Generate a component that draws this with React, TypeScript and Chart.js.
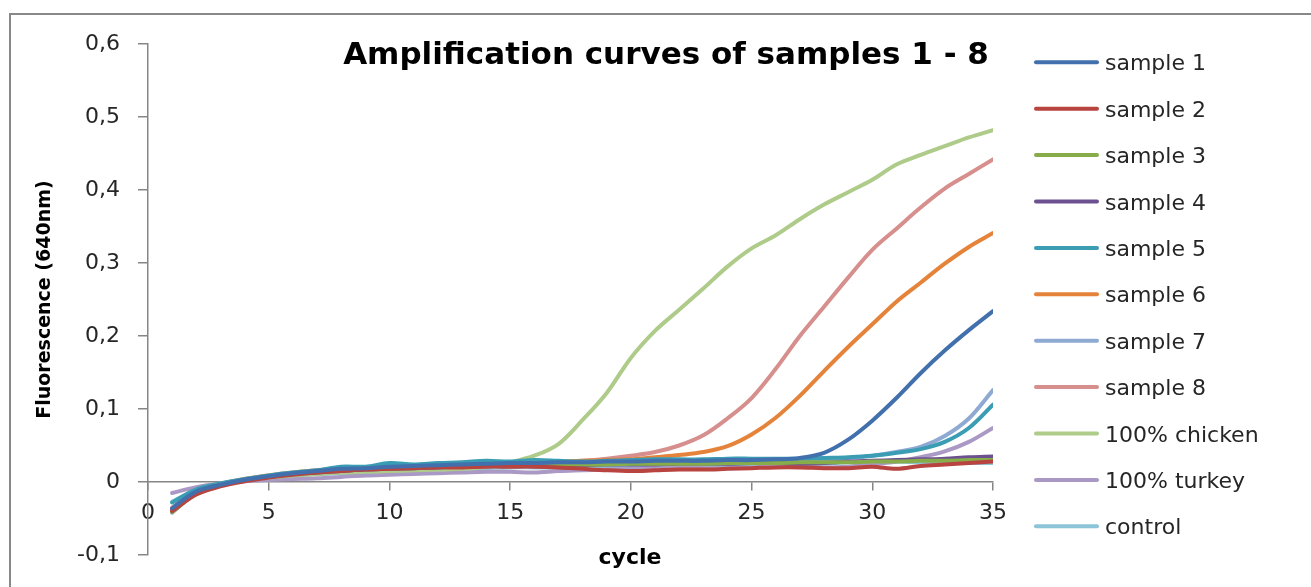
import React, { useEffect, useRef } from 'react';
import { Chart, registerables } from 'chart.js';

Chart.register(...registerables);

const cycles = [1, 2, 3, 4, 5, 6, 7, 8, 9, 10, 11, 12, 13, 14, 15, 16, 17, 18, 19, 20, 21, 22, 23, 24, 25, 26, 27, 28, 29, 30, 31, 32, 33, 34, 35];

const sample1 = [-0.036, -0.013, -0.004, 0.003, 0.008, 0.012, 0.015, 0.018, 0.019, 0.021, 0.022, 0.023, 0.024, 0.025, 0.026, 0.026, 0.027, 0.027, 0.028, 0.028, 0.029, 0.029, 0.029, 0.03, 0.03, 0.031, 0.033, 0.04, 0.058, 0.084, 0.115, 0.149, 0.18, 0.208, 0.234];
const sample2 = [-0.04, -0.017, -0.006, 0.001, 0.006, 0.01, 0.013, 0.015, 0.017, 0.018, 0.019, 0.02, 0.02, 0.021, 0.021, 0.021, 0.02, 0.018, 0.016, 0.015, 0.016, 0.017, 0.017, 0.018, 0.019, 0.02, 0.02, 0.019, 0.019, 0.021, 0.018, 0.022, 0.024, 0.026, 0.028];
const sample3 = [-0.041, -0.016, -0.005, 0.002, 0.007, 0.011, 0.014, 0.016, 0.018, 0.019, 0.02, 0.021, 0.022, 0.022, 0.023, 0.023, 0.024, 0.024, 0.024, 0.025, 0.025, 0.025, 0.025, 0.026, 0.026, 0.026, 0.027, 0.027, 0.027, 0.028, 0.028, 0.029, 0.029, 0.03, 0.03];
const sample4 = [-0.037, -0.014, -0.004, 0.002, 0.007, 0.011, 0.013, 0.015, 0.017, 0.018, 0.019, 0.02, 0.021, 0.022, 0.022, 0.023, 0.023, 0.023, 0.024, 0.024, 0.024, 0.025, 0.025, 0.025, 0.026, 0.026, 0.025, 0.026, 0.028, 0.029, 0.03, 0.031, 0.032, 0.034, 0.035];
const sample5 = [-0.028, -0.01, -0.002, 0.004, 0.009, 0.013, 0.016, 0.021, 0.021, 0.026, 0.024, 0.026, 0.027, 0.029, 0.028, 0.03, 0.029, 0.028, 0.029, 0.03, 0.031, 0.031, 0.031, 0.032, 0.032, 0.032, 0.032, 0.033, 0.034, 0.036, 0.04, 0.045, 0.055, 0.074, 0.106];
const sample6 = [-0.038, -0.013, -0.003, 0.004, 0.009, 0.013, 0.016, 0.018, 0.019, 0.021, 0.022, 0.023, 0.024, 0.025, 0.026, 0.027, 0.028, 0.029, 0.03, 0.031, 0.034, 0.037, 0.041, 0.049, 0.065, 0.088, 0.118, 0.152, 0.185, 0.216, 0.247, 0.273, 0.299, 0.322, 0.341];
const sample7 = [-0.042, -0.015, -0.005, 0.002, 0.007, 0.011, 0.014, 0.016, 0.018, 0.02, 0.021, 0.022, 0.023, 0.024, 0.025, 0.026, 0.026, 0.027, 0.027, 0.028, 0.028, 0.028, 0.029, 0.029, 0.029, 0.03, 0.03, 0.031, 0.033, 0.036, 0.041, 0.048, 0.063, 0.087, 0.126];
const sample8 = [-0.035, -0.012, -0.003, 0.003, 0.008, 0.012, 0.015, 0.018, 0.02, 0.021, 0.022, 0.023, 0.024, 0.024, 0.025, 0.026, 0.027, 0.029, 0.032, 0.036, 0.041, 0.05, 0.064, 0.087, 0.115, 0.155, 0.2, 0.24, 0.28, 0.318, 0.347, 0.376, 0.402, 0.422, 0.442];
const chicken = [-0.04, -0.015, -0.005, 0.002, 0.006, 0.009, 0.011, 0.013, 0.014, 0.015, 0.016, 0.017, 0.018, 0.021, 0.027, 0.036, 0.052, 0.085, 0.122, 0.17, 0.207, 0.236, 0.265, 0.295, 0.32, 0.338, 0.36, 0.38, 0.397, 0.414, 0.435, 0.448, 0.46, 0.472, 0.482];
const turkey = [-0.015, -0.007, -0.002, 0.001, 0.003, 0.004, 0.005, 0.007, 0.009, 0.01, 0.011, 0.012, 0.013, 0.014, 0.014, 0.013, 0.015, 0.016, 0.017, 0.018, 0.02, 0.02, 0.019, 0.019, 0.02, 0.022, 0.022, 0.02, 0.021, 0.024, 0.028, 0.034, 0.042, 0.055, 0.074];
const control = [-0.027, -0.011, -0.003, 0.003, 0.006, 0.009, 0.011, 0.012, 0.013, 0.015, 0.016, 0.017, 0.018, 0.019, 0.02, 0.02, 0.02, 0.021, 0.021, 0.021, 0.022, 0.022, 0.022, 0.022, 0.023, 0.023, 0.024, 0.025, 0.027, 0.028, 0.028, 0.027, 0.027, 0.026, 0.026];

const seriesNames = ['sample 1', 'sample 2', 'sample 3', 'sample 4', 'sample 5', 'sample 6', 'sample 7', 'sample 8', '100% chicken', '100% turkey', 'control'];
const seriesValues = [sample1, sample2, sample3, sample4, sample5, sample6, sample7, sample8, chicken, turkey, control];
const seriesColors = ['#4170ad', '#b8433f', '#87ad4a', '#6c5191', '#3a9db3', '#e5833a', '#8eaad3', '#d68f8c', '#aecb8a', '#a999c4', '#8cc4d8'];

const chartTitle = 'Amplification curves of samples 1 - 8';
const xTitle = 'cycle';
const yTitle = 'Fluorescence (640nm)';

const FONT = '"DejaVu Sans", sans-serif';
const W = 1311;
const H = 587;

const decorPlugin = {
  id: 'decor',
  beforeDraw(chart: any) {
    const ctx = chart.ctx;
    ctx.save();
    ctx.fillStyle = '#888888';
    ctx.fillRect(9, 13, 2, H);
    ctx.fillRect(9, 13, W, 2);
    ctx.restore();
  },
  afterDraw(chart: any) {
    const ctx = chart.ctx;
    ctx.save();
    ctx.fillStyle = '#000000';
    ctx.textAlign = 'center';
    ctx.textBaseline = 'alphabetic';
    ctx.font = `bold 31px ${FONT}`;
    ctx.fillText(chartTitle, 666, 64);
    ctx.font = `bold 22px ${FONT}`;
    ctx.fillText(xTitle, 630, 564);

    ctx.textAlign = 'left';
    ctx.font = `22px ${FONT}`;
    chart.data.datasets.forEach((ds: any, i: number) => {
      const y = 62.3 + i * 46.4;
      ctx.strokeStyle = ds.borderColor;
      ctx.lineWidth = 4;
      ctx.lineCap = 'round';
      ctx.beginPath();
      ctx.moveTo(1036, y);
      ctx.lineTo(1097, y);
      ctx.stroke();
      ctx.fillStyle = '#262626';
      ctx.fillText(ds.label, 1105, y + 8);
    });
    ctx.restore();
  },
};

export default function App() {
  const ref = useRef<HTMLCanvasElement | null>(null);

  useEffect(() => {
    const canvas = ref.current;
    if (!canvas) return;
    const datasets = seriesNames.map((name, i) => ({
      label: name,
      data: cycles.map((c, j) => ({ x: c, y: seriesValues[i][j] })),
      borderColor: seriesColors[i],
      backgroundColor: seriesColors[i],
      borderWidth: 4,
      pointRadius: 0,
      tension: 0.35,
      borderCapStyle: 'round' as const,
      borderJoinStyle: 'round' as const,
    }));

    const chart = new Chart(canvas, {
      type: 'line',
      data: { datasets },
      plugins: [decorPlugin],
      options: {
        animation: false,
        responsive: false,
        devicePixelRatio: 1,
        layout: { padding: { top: 44, bottom: 32, left: 0, right: 318 } },
        plugins: {
          legend: { display: false },
          title: { display: false },
          tooltip: { enabled: false },
        },
        scales: {
          x: {
            type: 'linear',
            position: { y: 0 } as any,
            min: 0,
            max: 35,
            ticks: {
              stepSize: 5,
              color: '#262626',
              font: { family: FONT, size: 22 },
              padding: 10,
              maxRotation: 0,
            },
            grid: {
              display: true,
              drawOnChartArea: false,
              drawTicks: true,
              tickLength: 8,
              color: '#868686',
              lineWidth: 1.5,
            },
            border: { display: true, color: '#868686', width: 1.5 },
          },
          y: {
            type: 'linear',
            position: 'left',
            min: -0.1,
            max: 0.6,
            afterFit(scale: any) {
              scale.width = 148;
            },
            ticks: {
              stepSize: 0.1,
              color: '#262626',
              font: { family: FONT, size: 22 },
              padding: 18,
              callback: (v: any) => {
                const n = Number(v);
                if (Math.abs(n) < 1e-9) return '0';
                return n.toFixed(1).replace('.', ',');
              },
            },
            grid: {
              display: true,
              drawOnChartArea: false,
              drawTicks: true,
              tickLength: 10,
              color: '#868686',
              lineWidth: 1.5,
            },
            border: { display: true, color: '#868686', width: 1.5 },
            title: {
              display: true,
              text: yTitle,
              color: '#000000',
              font: { family: FONT, size: 19, weight: 'bold' },
              padding: { top: 34, bottom: 0 },
            },
          },
        },
      },
    });
    return () => chart.destroy();
  }, []);

  return (
    <div style={{ position: 'fixed', left: 0, top: 0, width: W, height: H, background: '#ffffff' }}>
      <canvas ref={ref} width={W} height={H} style={{ width: W, height: H, display: 'block' }} />
    </div>
  );
}
